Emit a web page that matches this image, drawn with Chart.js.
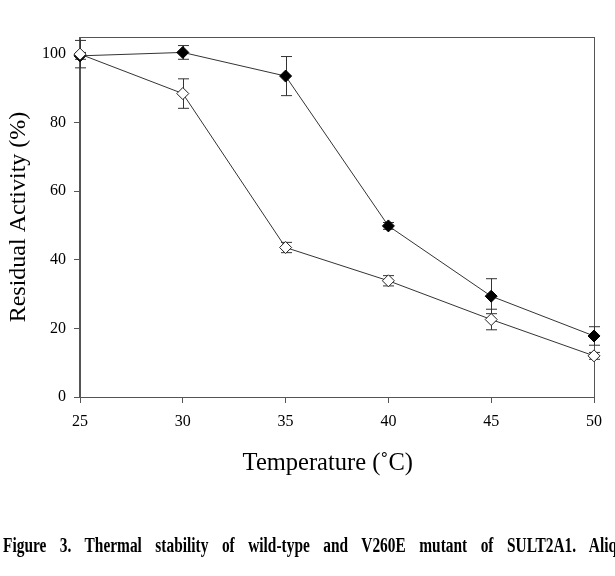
<!DOCTYPE html>
<html>
<head>
<meta charset="utf-8">
<script src="https://cdn.jsdelivr.net/npm/chart.js@4.4.1/dist/chart.umd.min.js"></script>
<style>
	html, body { margin: 0; padding: 0; background: #fff; }
	#wrap { position: relative; width: 615px; height: 576px; overflow: hidden; }
	#caption {
		position: absolute; left: 3px; top: 535px; white-space: nowrap;
		font: bold 20px/20px "Liberation Serif", "Times New Roman", serif;
		word-spacing: 12.5px; color: #000;
		transform: scaleX(0.77); transform-origin: 0 0;
	}
</style>
</head>
<body>
<div id="wrap">
	<canvas id="stability" width="615" height="576"></canvas>
	<div id="caption">Figure 3. Thermal stability of wild-type and V260E mutant of SULT2A1. Aliquots</div>
</div>
<script>
// temperatures (x) and residual activity (%) for both curves
const temps = [25, 30, 35, 40, 45, 50];
const openValues = [100, 88.5, 43.6, 33.9, 22.6, 12.0];
const openErrors = [4, 4.3, 1.5, 1.5, 3, 1];
const filledValues = [99.5, 100.5, 93.6, 49.9, 29.4, 17.8];
const filledErrors = [1, 2, 5.7, 1, 5.1, 2.7];
const yTicks = [0, 20, 40, 60, 80, 100];

const serif = "'Liberation Serif', 'Times New Roman', serif";
const lineColour = "#333333";
const axisColour = "#555555";

function toPoints(values) {
	return temps.map((t, i) => ({ x: t, y: values[i] }));
}

// frame + error bars, drawn under the markers, positioned with the chart scales
const errorBars = {
	id: "errorBars",
	beforeDatasetsDraw(chart) {
		const ctx = chart.ctx;
		const a = chart.chartArea;
		const xs = chart.scales.x;
		const ys = chart.scales.y;
		ctx.save();
		// box frame around the plot area
		ctx.strokeStyle = axisColour;
		ctx.lineWidth = 1;
		ctx.strokeRect(Math.round(a.left) - 0.5, Math.round(a.top) + 0.5, Math.round(a.right - a.left) + 1, Math.round(a.bottom - a.top));

		const sets = [
			[openValues, openErrors],
			[filledValues, filledErrors],
		];
		ctx.strokeStyle = lineColour;
		sets.forEach(([vals, errs]) => {
			vals.forEach((v, i) => {
				const px = Math.round(xs.getPixelForValue(temps[i])) + 0.5;
				const top = ys.getPixelForValue(v + errs[i]);
				const bot = ys.getPixelForValue(v - errs[i]);
				ctx.beginPath();
				ctx.moveTo(px, top);
				ctx.lineTo(px, bot);
				ctx.moveTo(px - 5.5, top);
				ctx.lineTo(px + 5.5, top);
				ctx.moveTo(px - 5.5, bot);
				ctx.lineTo(px + 5.5, bot);
				ctx.stroke();
			});
		});
		ctx.restore();
	},
};

new Chart(document.getElementById("stability"), {
	type: "line",
	data: {
		datasets: [
			{
				label: "Open",
				data: toPoints(openValues),
				borderColor: lineColour,
				borderWidth: 1,
				pointStyle: "rectRot",
				pointRadius: 6,
				pointBackgroundColor: "#ffffff",
				pointBorderColor: "#222222",
				pointBorderWidth: 1,
				tension: 0,
				clip: false,
			},
			{
				label: "Filled",
				data: toPoints(filledValues),
				borderColor: lineColour,
				borderWidth: 1,
				pointStyle: "rectRot",
				pointRadius: 6,
				pointBackgroundColor: "#000000",
				pointBorderColor: "#000000",
				pointBorderWidth: 1,
				tension: 0,
				clip: false,
			},
		],
	},
	options: {
		responsive: false,
		animation: false,
		layout: { padding: { top: 37, right: 21, bottom: 90, left: 0 } },
		scales: {
			x: {
				type: "linear",
				min: 25,
				max: 50,
				afterFit: (s) => { s.height = 89; },
				ticks: {
					stepSize: 5,
					color: "#000",
					padding: 9,
					font: { family: serif, size: 16 },
				},
				grid: { drawOnChartArea: false, tickLength: 6, color: axisColour },
				border: { color: axisColour },
				title: {
					display: true,
					text: "Temperature (˚C)\u00a0\u00a0\u00a0",
					color: "#000",
					font: { family: serif, size: 24.5 },
					padding: { top: 0, bottom: 8 },
				},
			},
			y: {
				min: 0,
				max: 105,
				afterFit: (s) => { s.width = 80; },
				afterBuildTicks: (s) => { s.ticks = yTicks.map((v) => ({ value: v })); },
				ticks: {
					color: "#000",
					padding: 8,
					font: { family: serif, size: 16 },
				},
				grid: { drawOnChartArea: false, tickLength: 6, color: axisColour },
				border: { color: axisColour },
				title: {
					display: true,
					text: "Residual Activity (%)",
					color: "#000",
					font: { family: serif, size: 24 },
					padding: { top: 4, bottom: 0 },
				},
			},
		},
		plugins: {
			legend: { display: false },
			tooltip: { enabled: false },
		},
	},
	plugins: [errorBars],
});
</script>
</body>
</html>
